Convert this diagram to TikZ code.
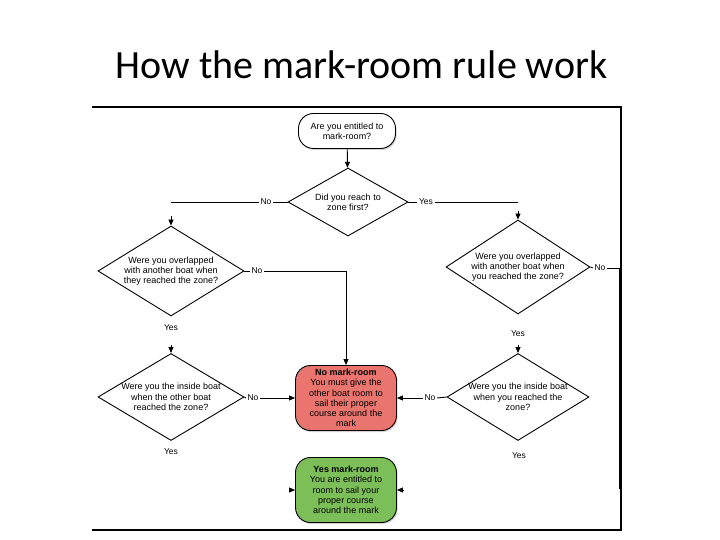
\documentclass[tikz,border=0pt]{standalone}
\usepackage{fontspec}
\setmainfont{Liberation Sans}
\newfontfamily\titlefont{Carlito}
\usetikzlibrary{shapes.geometric,arrows.meta,shadows}
\definecolor{redbox}{RGB}{234,116,110}
\definecolor{greenbox}{RGB}{124,190,88}
\begin{document}
\begin{tikzpicture}[x=1pt,y=-1pt,
  every node/.style={font=\fontsize{9}{10.3}\selectfont},
  dia/.style={diamond, draw, line width=0.9pt, aspect=1.65, inner xsep=-6pt, inner ysep=-2pt, align=center},
  rbox/.style={rectangle, rounded corners=15pt, draw, line width=0.9pt, align=center, inner sep=1pt},
  lbl/.style={inner sep=1.5pt, font=\fontsize{8.5}{9}\selectfont},
  conn/.style={line width=0.9pt},
  arr/.style={line width=0.9pt, -{Triangle[width=5pt,length=6pt]}},
  shad/.style={drop shadow={shadow xshift=1.2pt, shadow yshift=-1.5pt, opacity=0.35}}
]
\useasboundingbox (0,0) rectangle (720,540);
\fill[white] (0,0) rectangle (720,540);

% title
\node[anchor=base, font=\titlefont\fontsize{40}{44}\selectfont] (title) at (361.5,79) {How the mark-room rule work};

% frame
\draw[line width=1.3pt] (92,107) -- (621,107) -- (621,530) -- (92,530);

% nodes
\node[rbox, shad, fill=white, minimum width=97pt, minimum height=35pt] (start) at (347,131) {Are you entitled to\\mark-room?};
\node[dia, fill=white, minimum width=120pt, minimum height=68pt] (d1) at (348,202) {Did you reach to\\zone first?};
\node[dia, fill=white, minimum width=146pt, minimum height=90pt] (d2) at (171,271) {Were you overlapped\\with another boat when\\they reached the zone?};
\node[dia, fill=white, minimum width=146pt, minimum height=87pt] (d3) at (171,397) {Were you the inside boat\\when the other boat\\reached the zone?};
\node[dia, fill=white, minimum width=144pt, minimum height=94pt] (d4) at (518,267) {Were you overlapped\\with another boat when\\you reached the zone?};
\node[dia, fill=white, minimum width=142pt, minimum height=87pt] (d5) at (518,397) {Were you the inside boat\\when you reached the\\zone?};
\node[rbox, shad, fill=redbox, minimum width=101pt, minimum height=65pt] (red) at (346,398) {\textbf{No mark-room}\\You must give the\\other boat room to\\sail their proper\\course around the\\mark};
\node[rbox, shad, fill=greenbox, minimum width=101pt, minimum height=65pt] (green) at (346,490) {\textbf{Yes mark-room}\\You are entitled to\\room to sail your\\proper course\\around the mark};

% labels
\node[lbl] (l1no) at (266,202) {No};
\node[lbl] (l1yes) at (426,202) {Yes};
\node[lbl] (l2no) at (257,271) {No};
\node[lbl] (l2yes) at (171,328) {Yes};
\node[lbl] (l3no) at (253,398) {No};
\node[lbl] (l3yes) at (171,452) {Yes};
\node[lbl] (l4no) at (600,268) {No};
\node[lbl] (l4yes) at (518,334) {Yes};
\node[lbl] (l5no) at (430,398) {No};
\node[lbl] (l5yes) at (519,456) {Yes};

% free ends
\coordinate (c1l) at (171,202);
\coordinate (c1r) at (518,202);
\coordinate (a2) at (171,216);
\coordinate (a3) at (171,345);
\coordinate (a4) at (518,211);
\coordinate (a5) at (518,345);
\coordinate (g1) at (289,490);
\coordinate (g2) at (403,490);
\coordinate (c4a) at (619,268);
\coordinate (c4b) at (619,489);

% connectors
\draw[arr] (start) -- (d1);
\draw[conn] (d1.west) -- (l1no.east);
\draw[conn] (l1no.west) -- (c1l);
\draw[conn] (d1.east) -- (l1yes.west);
\draw[conn] (l1yes.east) -- (c1r);
\draw[arr] (a2) -- (d2.north);
\draw[arr] (a4) -- (d4.north);
\draw[conn] (d2.east) -- (l2no.west);
\draw[arr] (l2no.east) -| (red.north);
\draw[arr] (a3) -- (d3.north);
\draw[conn] (d3.east) -- (l3no.west);
\draw[arr] (l3no.east) -- (red.west);
\draw[conn] (d4.east) -- (l4no.west);
\draw[conn] (l4no.east) -- (c4a) -- (c4b);
\draw[arr] (a5) -- (d5.north);
\draw[conn] (d5.west) -- (l5no.east);
\draw[arr] (l5no.west) -- (red.east);
\draw[arr] (g1) -- (green.west);
\draw[arr] (g2) -- (green.east);
\end{tikzpicture}
\end{document}
